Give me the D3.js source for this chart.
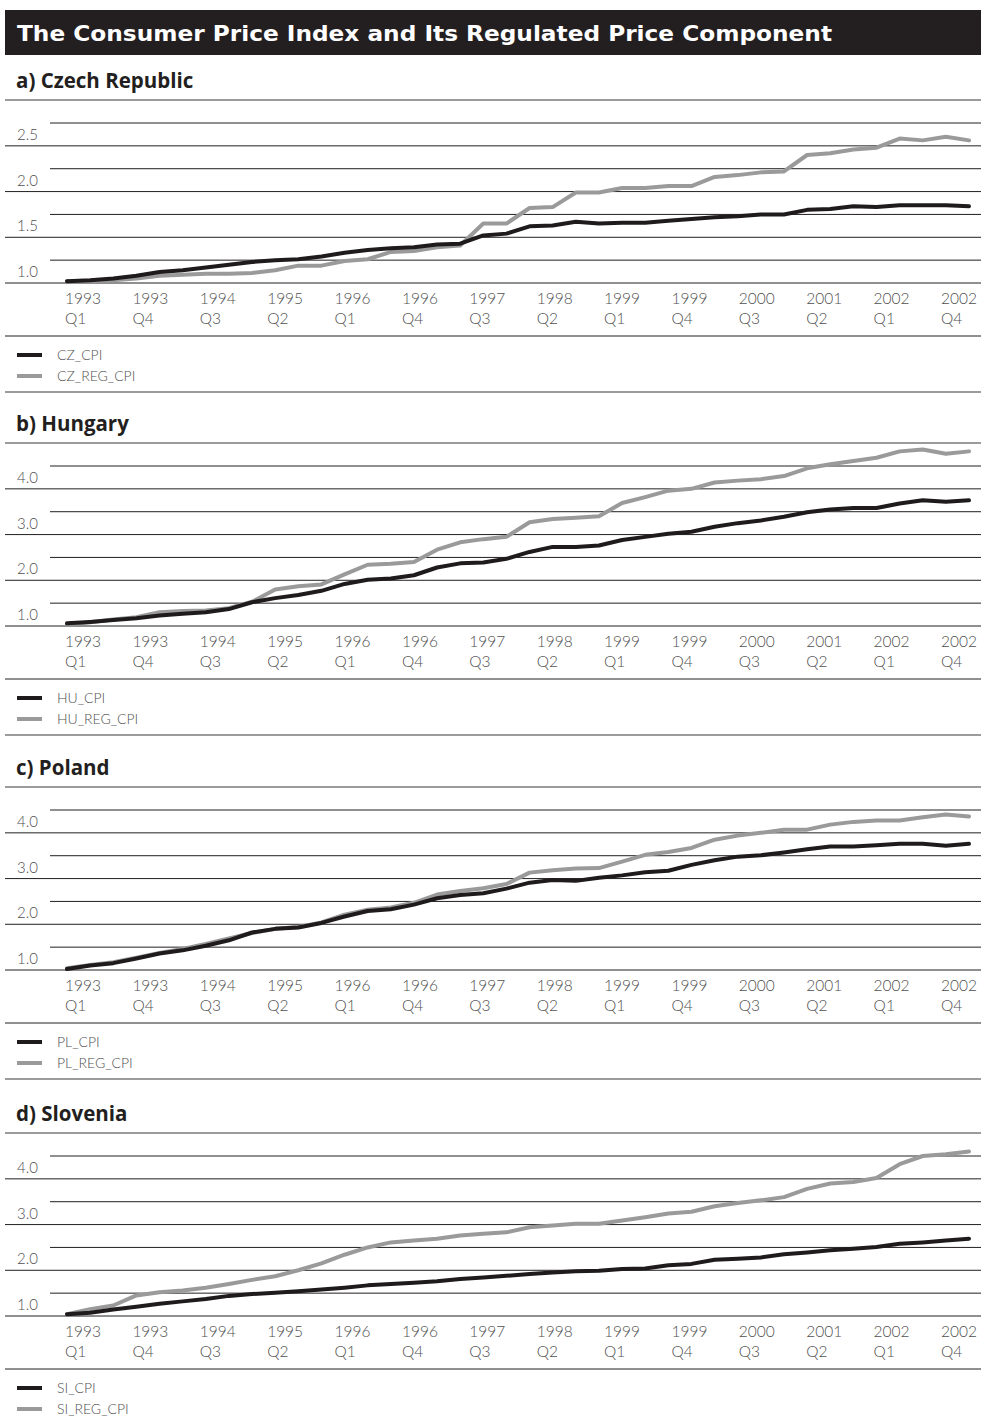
<!DOCTYPE html>
<html>
<head>
<meta charset="utf-8">
<script src="https://cdn.jsdelivr.net/npm/d3@7/dist/d3.min.js"></script>
<style>
  html, body { margin: 0; padding: 0; background: #fff; }
  svg { display: block; }
</style>
</head>
<body>
<script>
// Quarterly index values, 1993 Q1 – 2002 Q4 (40 quarters)
const quarters = [];
for (let y = 1993; y <= 2002; y++) for (let q = 1; q <= 4; q++) quarters.push(y + " Q" + q);

// Tick labels shown under each panel (every third quarter)
const tickYears    = ["1993","1993","1994","1995","1996","1996","1997","1998","1999","1999","2000","2001","2002","2002"];
const tickQuarters = ["Q1","Q4","Q3","Q2","Q1","Q4","Q3","Q2","Q1","Q4","Q3","Q2","Q1","Q4"];

const panelTitles = ["a) Czech Republic", "b) Hungary", "c) Poland", "d) Slovenia"];
const seriesNames = [["CZ_CPI","CZ_REG_CPI"],["HU_CPI","HU_REG_CPI"],["PL_CPI","PL_REG_CPI"],["SI_CPI","SI_REG_CPI"]];

const czCpi = [1.02,1.03,1.05,1.08,1.12,1.14,1.17,1.20,1.23,1.25,1.26,1.29,1.33,1.36,1.38,1.39,1.42,1.43,1.52,1.54,
               1.62,1.63,1.67,1.65,1.66,1.66,1.68,1.70,1.72,1.73,1.75,1.75,1.80,1.81,1.84,1.83,1.85,1.85,1.85,1.84];
const czReg = [1.02,1.02,1.03,1.05,1.08,1.09,1.10,1.10,1.11,1.14,1.19,1.19,1.24,1.26,1.34,1.35,1.39,1.41,1.65,1.65,
               1.82,1.83,1.99,1.99,2.04,2.04,2.06,2.06,2.16,2.18,2.21,2.22,2.40,2.42,2.46,2.48,2.58,2.56,2.60,2.56];

const huCpi = [1.06,1.09,1.13,1.17,1.23,1.27,1.30,1.37,1.52,1.61,1.68,1.77,1.92,2.01,2.04,2.11,2.28,2.37,2.39,2.47,
               2.62,2.73,2.73,2.76,2.88,2.95,3.02,3.06,3.17,3.25,3.31,3.39,3.49,3.55,3.58,3.58,3.68,3.75,3.72,3.75];
const huReg = [1.04,1.08,1.14,1.19,1.30,1.33,1.34,1.39,1.53,1.80,1.87,1.91,2.13,2.34,2.36,2.40,2.67,2.83,2.90,2.95,
               3.27,3.34,3.37,3.40,3.69,3.82,3.96,4.00,4.14,4.18,4.21,4.28,4.45,4.54,4.61,4.68,4.82,4.86,4.77,4.82];

const plCpi = [1.02,1.10,1.15,1.25,1.36,1.43,1.53,1.65,1.82,1.90,1.93,2.03,2.17,2.29,2.33,2.43,2.57,2.64,2.68,2.78,
               2.91,2.97,2.95,3.02,3.07,3.14,3.17,3.30,3.40,3.48,3.51,3.57,3.64,3.70,3.70,3.73,3.76,3.76,3.72,3.76];
const plReg = [1.04,1.11,1.17,1.27,1.37,1.46,1.57,1.69,1.81,1.90,1.94,2.04,2.21,2.32,2.37,2.47,2.65,2.73,2.79,2.88,
               3.13,3.18,3.22,3.23,3.37,3.52,3.58,3.67,3.85,3.94,4.00,4.07,4.07,4.18,4.24,4.27,4.27,4.34,4.40,4.36];

const siCpi = [1.04,1.07,1.14,1.20,1.27,1.32,1.37,1.44,1.48,1.51,1.54,1.58,1.62,1.67,1.70,1.73,1.76,1.81,1.84,1.88,
               1.92,1.95,1.98,1.99,2.03,2.04,2.11,2.14,2.23,2.25,2.28,2.35,2.39,2.44,2.47,2.51,2.58,2.61,2.65,2.69];
const siReg = [1.04,1.15,1.23,1.45,1.52,1.56,1.62,1.70,1.79,1.87,2.00,2.15,2.34,2.50,2.61,2.65,2.69,2.76,2.80,2.83,
               2.94,2.98,3.02,3.02,3.09,3.16,3.24,3.28,3.40,3.47,3.53,3.60,3.78,3.90,3.93,4.02,4.32,4.50,4.54,4.60];

const panelData = [[czCpi, czReg], [huCpi, huReg], [plCpi, plReg], [siCpi, siReg]];

// Value axes: labelled lines and the half-step lines between them
const yLabelled = [[1.0,1.5,2.0,2.5],[1,2,3,4],[1,2,3,4],[1,2,3,4]];
const yMinor    = [[1.25,1.75,2.25,2.75],[1.5,2.5,3.5,4.5],[1.5,2.5,3.5,4.5],[1.5,2.5,3.5,4.5]];
const yDomains  = [[1.0,2.75],[1,4.5],[1,4.5],[1,4.5]];

// ---- layout ----
const W = 981, H = 1421;
const panelTop = [100, 443, 787, 1133];
const INK = "#231f20", CPI_COLOR = "#1f1b1c", REG_COLOR = "#9a9a9a", LABEL = "#4f4f4f";
const FONT_LIGHT = "'Lato', 'Open Sans', sans-serif";

const svg = d3.select("body").append("svg").attr("width", W).attr("height", H);

// Title bar
svg.append("rect").attr("x", 5).attr("y", 10).attr("width", W - 5).attr("height", 45).attr("fill", INK);
svg.append("text").attr("x", 17).attr("y", 41)
  .attr("fill", "#fff").attr("font-family", "'DejaVu Sans', sans-serif").attr("font-weight", 700)
  .attr("font-size", 21).attr("textLength", 815).attr("lengthAdjust", "spacingAndGlyphs")
  .text("The Consumer Price Index and Its Regulated Price Component");

const x = d3.scaleLinear().domain([0, quarters.length - 1]).range([67, 969]);
const tickX = d3.scalePoint().domain(d3.range(tickYears.length)).range([65, 941]);

panelData.forEach((series, p) => {
  const s = panelTop[p];
  const g = svg.append("g");
  const y = d3.scaleLinear().domain(yDomains[p]).range([s + 183, s + 23]);

  // heading
  g.append("text").attr("x", 16).attr("y", s - 12)
    .attr("fill", INK).attr("font-family", "'Open Sans', sans-serif").attr("font-weight", 700)
    .attr("font-size", 20.5).text(panelTitles[p]);

  // rule under heading
  g.append("line").attr("x1", 5).attr("x2", W).attr("y1", s).attr("y2", s)
    .attr("stroke", "#7a7a7a").attr("stroke-width", 1.3);

  // half-step lines
  g.selectAll(".minor").data(yMinor[p]).join("line")
    .attr("x1", 50).attr("x2", W)
    .attr("y1", d => y(d)).attr("y2", d => y(d))
    .attr("stroke", INK).attr("stroke-width", 1);

  // labelled lines
  g.selectAll(".major").data(yLabelled[p]).join("line")
    .attr("x1", 5).attr("x2", W)
    .attr("y1", d => y(d)).attr("y2", d => y(d))
    .attr("stroke", INK).attr("stroke-width", 1);

  g.selectAll(".ylab").data(yLabelled[p]).join("text")
    .attr("x", 17).attr("y", d => y(d) - 6)
    .attr("fill", LABEL).attr("font-family", FONT_LIGHT).attr("font-weight", 300)
    .attr("font-size", 15).text(d => d3.format(".1f")(d));

  // series lines: regulated component underneath, headline CPI on top
  const line = d3.line().x((d, i) => x(i)).y(d => y(d));
  [1, 0].forEach(k => {
    g.append("path").datum(series[k]).attr("d", line)
      .attr("fill", "none").attr("stroke", k === 0 ? CPI_COLOR : REG_COLOR)
      .attr("stroke-width", 4).attr("stroke-linejoin", "round").attr("stroke-linecap", "round");
  });

  // category labels
  const tl = g.selectAll(".xlab").data(tickYears).join("text")
    .attr("fill", LABEL).attr("font-family", FONT_LIGHT).attr("font-weight", 300).attr("font-size", 15.5);
  tl.append("tspan").attr("x", (d, i) => tickX(i)).attr("y", s + 204).text(d => d);
  tl.append("tspan").attr("x", (d, i) => tickX(i)).attr("y", s + 224).text((d, i) => tickQuarters[i]);

  // rule above legend
  g.append("line").attr("x1", 5).attr("x2", W).attr("y1", s + 236).attr("y2", s + 236)
    .attr("stroke", INK).attr("stroke-width", 1);

  // legend
  [0, 1].forEach(k => {
    const ly = s + 255 + k * 21;
    g.append("line").attr("x1", 17).attr("x2", 42).attr("y1", ly).attr("y2", ly)
      .attr("stroke", k === 0 ? CPI_COLOR : REG_COLOR).attr("stroke-width", 4);
    g.append("text").attr("x", 57).attr("y", ly + 5)
      .attr("fill", LABEL).attr("font-family", FONT_LIGHT).attr("font-weight", 300)
      .attr("font-size", 14).text(seriesNames[p][k]);
  });

  // closing rule
  if (p < panelData.length - 1) {
    g.append("line").attr("x1", 5).attr("x2", W).attr("y1", s + 292).attr("y2", s + 292)
      .attr("stroke", "#7a7a7a").attr("stroke-width", 1.3);
  }
});
</script>
</body>
</html>
